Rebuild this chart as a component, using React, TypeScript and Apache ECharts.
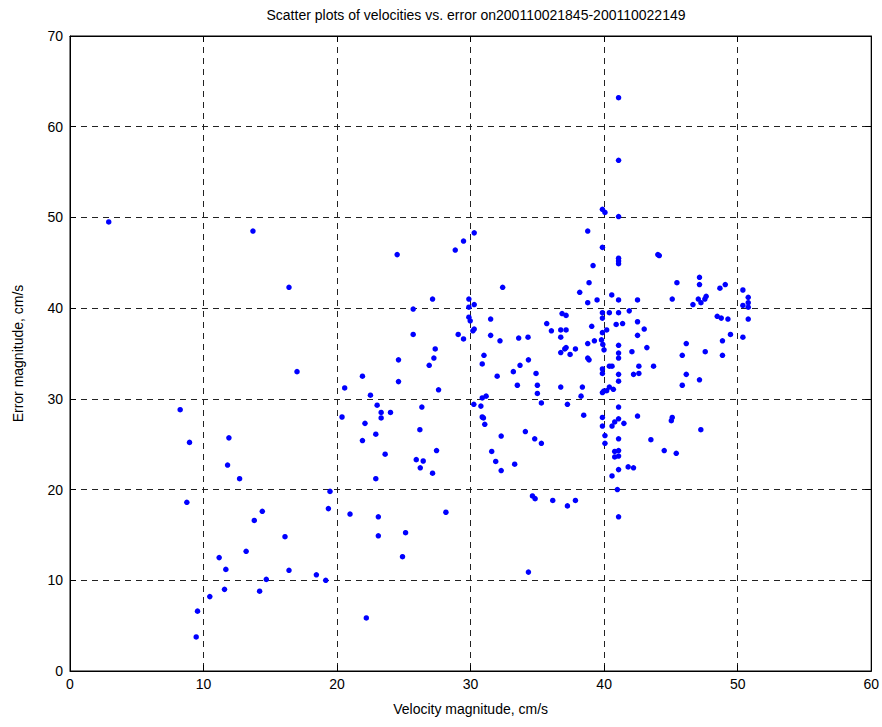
import React, { useEffect, useRef } from "react";
import * as echarts from "echarts";

const titleText = "Scatter plots of velocities vs. error on200110021845-200110022149";
const xName = "Velocity magnitude, cm/s";
const yName = "Error magnitude, cm/s";

const velocity: number[] = [
  2.9, 13.7, 16.4,
  8.25, 8.95, 8.75, 9.55, 9.45, 10.47, 11.17, 11.67, 11.57, 11.9, 11.8, 12.7, 13.19, 13.8, 14.4, 14.2, 14.7, 16.1, 16.4, 17.0, 18.45, 19.15, 19.47, 19.35,
  24.5, 28.85, 29.47, 30.27, 32.4, 27.15, 25.7, 29.87, 29.87, 30.27, 29.87, 29.97, 31.5, 25.7, 29.07, 30.27, 30.17, 29.47, 31.5, 32.2, 27.35, 31.0, 27.25, 24.6,
  26.9, 30.87, 31.99, 21.9, 20.57, 24.6, 22.5, 27.6, 30.24, 30.87, 31.16, 30.77, 30.87, 30.96, 31.06, 32.29, 31.58, 31.88, 32.29, 20.37, 23.0, 23.3, 23.3, 24.0, 22.09, 26.35, 22.9, 21.9, 26.2, 23.6, 27.45, 25.93, 26.45, 26.23, 27.15, 22.9, 20.97, 23.09, 28.15, 25.13, 23.09, 24.9, 22.19,
  39.87, 39.17, 38.87, 38.17, 38.77, 39.47, 33.6, 34.3, 35.7, 36.05, 36.85, 37.15, 36.75, 37.15, 36.75, 37.15, 37.05, 36.75, 37.45, 37.85, 38.77, 39.07, 39.27, 39.87, 39.87, 39.87, 39.8, 39.9, 40.39, 33.7, 34.33, 33.2, 34.9, 33.5, 35.0, 35.0, 35.3, 36.75, 38.37, 37.25, 38.27, 38.77, 38.87, 39.87, 39.87, 40.39, 39.87, 39.97, 40.39, 38.47, 39.87,
  41.08, 41.08, 41.08, 44.02, 44.13, 45.45, 47.14, 47.14, 48.67, 49.07, 50.39, 40.57, 41.08, 42.5, 45.1, 47.05, 46.65, 47.25, 47.54, 47.64, 50.39, 50.79, 50.79, 50.79, 41.08, 41.88, 40.9, 41.38, 42.5, 43.0, 40.19, 42.5, 41.08, 43.2, 39.99, 42.08, 41.08, 41.08, 46.15, 45.85, 47.57, 48.86, 48.86, 49.46, 48.47, 48.77, 49.27, 50.39, 50.79, 40.59, 41.08, 41.08, 42.6, 43.7, 42.2, 42.6, 46.15, 45.85, 47.14, 40.19, 40.69, 41.08, 41.08, 42.5, 45.1,
  39.87, 40.06, 40.06, 34.1, 34.8, 35.3, 33.3, 34.63, 34.83, 36.15, 37.25, 37.85,
  40.79, 40.59, 41.48, 45.03, 47.24, 41.08, 43.5, 40.79, 41.08, 40.79, 41.08, 44.5, 45.4, 41.08, 41.8, 42.2, 40.59, 40.99, 41.08,
  41.08, 41.08, 39.87, 40.06, 41.08, 38.77,
  34.33,
];

const errorMag: number[] = [
  49.5, 48.5, 42.3,
  28.8, 25.2, 18.6, 6.6, 3.75, 8.2, 12.5, 11.2, 9.0, 25.7, 22.7, 21.2, 13.2, 16.6, 17.6, 8.8, 10.1, 14.8, 11.1, 33.0, 10.6, 10.0, 19.8, 17.9,
  45.9, 46.4, 47.4, 48.3, 42.3, 41.0, 39.9, 41.0, 40.1, 40.4, 39.0, 38.6, 38.8, 37.1, 37.1, 37.7, 37.5, 36.6, 37.0, 36.4, 35.5, 34.8, 34.5, 34.3,
  33.7, 33.85, 32.5, 32.5, 31.2, 31.9, 30.4, 31.0, 29.4, 30.1, 30.3, 29.2, 28.0, 27.9, 27.2, 25.9, 24.2, 23.1, 22.1, 28.0, 29.3, 28.5, 27.9, 28.5, 27.3, 29.1, 26.1, 25.4, 26.6, 23.9, 24.3, 23.3, 23.15, 22.4, 21.8, 21.2, 17.3, 17.0, 17.5, 15.25, 14.9, 12.6, 5.85,
  46.7, 44.7, 42.8, 41.75, 40.6, 40.9, 36.7, 36.8, 38.3, 37.5, 39.4, 39.2, 37.6, 37.6, 36.8, 35.65, 35.5, 35.1, 34.9, 35.5, 36.1, 38.0, 36.4, 39.5, 38.9, 37.3, 36.5, 36.0, 39.5, 33.7, 34.3, 33.0, 32.8, 31.5, 31.5, 30.6, 29.55, 31.3, 31.3, 29.4, 30.3, 34.5, 34.3, 33.3, 32.8, 33.6, 30.7, 30.85, 31.3, 28.2, 27.95,
  45.5, 45.2, 44.9, 45.9, 45.8, 42.8, 43.4, 42.6, 42.2, 42.6, 42.0, 41.45, 40.9, 40.9, 41.0, 41.0, 40.4, 40.6, 41.0, 41.3, 40.3, 41.2, 40.6, 40.1, 39.5, 39.7, 38.2, 38.3, 38.5, 37.7, 37.6, 37.0, 35.9, 35.65, 35.4, 35.2, 35.05, 34.5, 36.1, 34.8, 35.2, 36.4, 34.8, 37.1, 39.1, 38.9, 38.8, 36.8, 38.8, 33.6, 32.7, 31.95, 33.6, 33.6, 32.7, 32.8, 32.7, 31.5, 32.1, 30.9, 31.05, 29.1, 27.8, 28.1, 27.95,
  27.0, 25.95, 25.1, 26.4, 25.6, 25.1, 22.8, 19.3, 19.0, 18.8, 18.2, 18.8,
  27.45, 27.0, 27.3, 27.6, 26.6, 25.6, 25.5, 24.2, 24.3, 23.6, 23.7, 24.3, 24.0, 22.2, 22.5, 22.4, 21.5, 20.0, 17.0,
  63.2, 56.3, 50.9, 50.55, 50.1, 48.5,
  10.9,
];

const xTicks = [0, 10, 20, 30, 40, 50, 60];
const yTicks = [0, 10, 20, 30, 40, 50, 60, 70];

export default function App() {
  const ref = useRef<HTMLDivElement>(null);
  useEffect(() => {
    if (!ref.current) return;
    const chart = echarts.init(ref.current, undefined, { renderer: "svg" });
    const pts = velocity.map((v, i) => [v, errorMag[i]]);
    const font = "Liberation Sans, Arial, sans-serif";
    const xMin = xTicks[0], xMax = xTicks[xTicks.length - 1];
    const yMin = yTicks[0], yMax = yTicks[yTicks.length - 1];
    const split = { show: true, lineStyle: { color: "#222", type: [6, 5] as any, width: 1 } };
    chart.setOption({
      animation: false,
      backgroundColor: "#fff",
      title: {
        text: titleText,
        left: 471,
        textAlign: "center",
        top: 3,
        textStyle: { fontFamily: font, fontSize: 14, fontWeight: "normal", color: "#000" },
      },
      grid: {
        left: 70, right: 10, top: 36, bottom: 56,
        show: true, borderColor: "#000", borderWidth: 1, backgroundColor: "#fff",
      },
      xAxis: [
        {
          type: "value", min: xMin, max: xMax, interval: 10, position: "bottom",
          name: xName, nameLocation: "middle", nameGap: 31,
          nameTextStyle: { fontFamily: font, fontSize: 14, color: "#000" },
          axisLine: { show: true, onZero: false, lineStyle: { color: "#000" } },
          axisTick: { show: true, inside: true, length: 6, lineStyle: { color: "#000" } },
          axisLabel: { fontFamily: font, fontSize: 14, color: "#000", margin: 6 },
          splitLine: split,
        },
        {
          type: "value", min: xMin, max: xMax, interval: 10, position: "top",
          axisLine: { show: true, onZero: false, lineStyle: { color: "#000" } },
          axisTick: { show: true, inside: true, length: 6, lineStyle: { color: "#000" } },
          axisLabel: { show: false },
          splitLine: { show: false },
        },
      ],
      yAxis: [
        {
          type: "value", min: yMin, max: yMax, interval: 10, position: "left",
          name: yName, nameLocation: "middle", nameGap: 45, nameRotate: 90,
          nameTextStyle: { fontFamily: font, fontSize: 14, color: "#000" },
          axisLine: { show: true, onZero: false, lineStyle: { color: "#000" } },
          axisTick: { show: true, inside: true, length: 6, lineStyle: { color: "#000" } },
          axisLabel: { fontFamily: font, fontSize: 14, color: "#000", margin: 7 },
          splitLine: split,
        },
        {
          type: "value", min: yMin, max: yMax, interval: 10, position: "right",
          axisLine: { show: true, onZero: false, lineStyle: { color: "#000" } },
          axisTick: { show: true, inside: true, length: 6, lineStyle: { color: "#000" } },
          axisLabel: { show: false },
          splitLine: { show: false },
        },
      ],
      series: [
        {
          type: "scatter",
          xAxisIndex: 0,
          yAxisIndex: 0,
          data: pts,
          symbol: "circle",
          symbolSize: 5.5,
          itemStyle: { color: "#0000FF", opacity: 1 },
          z: 5,
        },
      ],
    });
    return () => chart.dispose();
  }, []);
  return (
    <div
      ref={ref}
      style={{ position: "fixed", left: 0, top: 0, width: 882, height: 727, background: "#fff" }}
    />
  );
}
